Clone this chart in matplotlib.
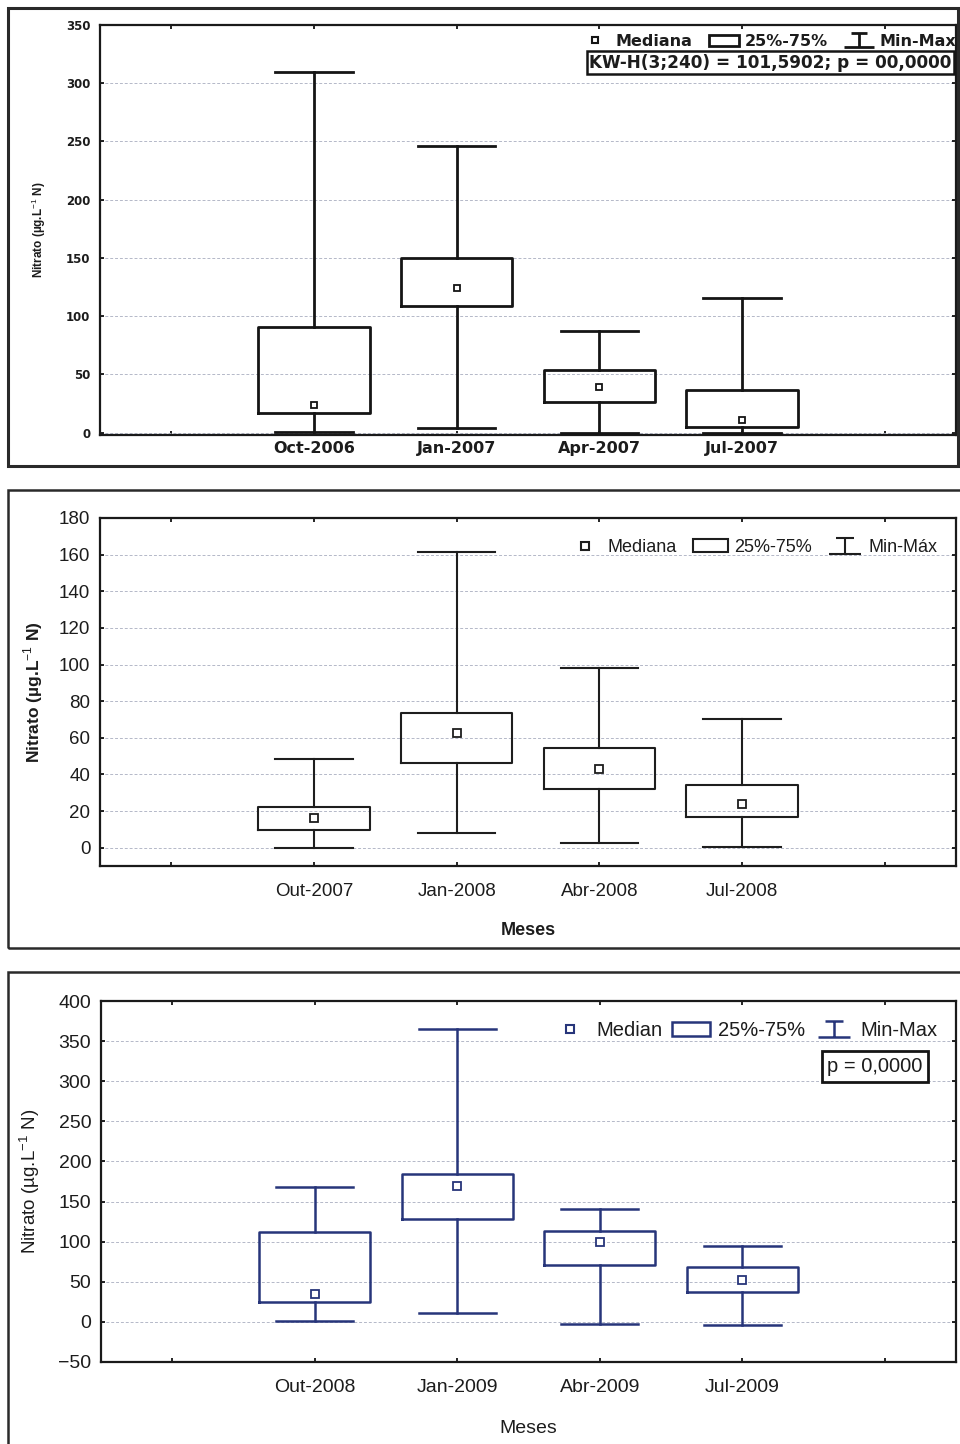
import matplotlib
matplotlib.use('Agg')
import matplotlib.pyplot as plt
from matplotlib.patches import Rectangle, Patch
from matplotlib.lines import Line2D
from matplotlib.path import Path

W, H = 960, 1444

# painel 1 (2006-2007)
meses_1 = ['Oct-2006', 'Jan-2007', 'Apr-2007', 'Jul-2007']
min_1 = [1, 4, 0, 0]
q1_1 = [17, 109, 26, 5]
med_1 = [24, 124, 39, 11]
q3_1 = [91, 150, 54, 37]
max_1 = [310, 246, 87, 116]

# painel 2 (2007-2008)
meses_2 = ['Out-2007', 'Jan-2008', 'Abr-2008', 'Jul-2008']
min_2 = [0, 8, 2.5, 0.5]
q1_2 = [9.5, 46.5, 32, 17]
med_2 = [16, 62.5, 43, 24]
q3_2 = [22, 73.5, 54.5, 34]
max_2 = [48.5, 161.5, 98, 70]

# painel 3 (2008-2009)
meses_3 = ['Out-2008', 'Jan-2009', 'Abr-2009', 'Jul-2009']
min_3 = [1, 11, -2.5, -4]
q1_3 = [25, 128.5, 71, 37]
med_3 = [35, 169.5, 100, 52.5]
q3_3 = [112, 184.5, 113.5, 69]
max_3 = [168.5, 365, 140.5, 95]

ylabel = 'Nitrato (µg.L$^{-1}$ N)'

plt.rcParams['font.family'] = ['Liberation Sans', 'DejaVu Sans']
plt.rcParams['mathtext.fontset'] = 'custom'
plt.rcParams['mathtext.rm'] = 'Liberation Sans'

fig = plt.figure(figsize=(W / 100, H / 100), dpi=100)

# "工" shaped marker for the Min-Max legend entry
minmax_path = Path([(-0.55, 0.5), (0.55, 0.5), (0, 0.5), (0, -0.5), (-1.0, -0.5), (1.0, -0.5)],
                   [Path.MOVETO, Path.LINETO, Path.MOVETO, Path.LINETO, Path.MOVETO, Path.LINETO])


def frame(x0, y0, x1, y1, lw=1.8):
    fig.add_artist(Rectangle((x0 / W, 1 - y1 / H), (x1 - x0) / W, (y1 - y0) / H,
                             transform=fig.transFigure, fill=False, lw=lw, ec='#2a2a2a'))


def panel(box, meses, mins, q1s, meds, q3s, maxs, yticks, ylim, color, lw, fam, tsize, xsize,
          bold, legend_labels, leg_anchor, leg_size, leg_colsp, mm_size,
          ylab_x, ylab_size, ylab_bold, ms):
    x0, y0, x1, y1 = box
    ax = fig.add_axes([x0 / W, 1 - y1 / H, (x1 - x0) / W, (y1 - y0) / H])
    stats = []
    for i in range(len(meses)):
        stats.append({'med': meds[i], 'q1': q1s[i], 'q3': q3s[i],
                      'whislo': mins[i], 'whishi': maxs[i], 'fliers': []})
    pos = list(range(1, len(meses) + 1))
    ax.bxp(stats, positions=pos, widths=0.78, capwidths=0.54, showfliers=False,
           boxprops=dict(color=color, lw=lw), whiskerprops=dict(color=color, lw=lw),
           capprops=dict(color=color, lw=lw), medianprops=dict(lw=0), manage_ticks=False,
           zorder=3)
    ax.plot(pos, meds, ls='none', marker='s', ms=ms, mfc='white', mec=color, mew=1.3, zorder=4)

    ax.set_xlim(-0.5, 5.5)
    ax.set_ylim(*ylim)
    ax.set_xticks(range(0, 6))
    ax.set_xticklabels([''] + meses + [''])
    ax.set_yticks(yticks)
    weight = 'bold' if bold else 'normal'
    for t in ax.get_yticklabels():
        t.set_fontsize(tsize)
        t.set_fontweight(weight)
        t.set_family(fam)
        t.set_color('#1c1c1c')
    for t in ax.get_xticklabels():
        t.set_fontsize(xsize)
        t.set_fontweight(weight)
        t.set_family(fam)
        t.set_color('#1c1c1c')
    ax.tick_params(direction='in', length=3, width=1.2, top=True, right=True, pad=7)
    ax.grid(axis='y', color='#b4b8c8', ls=(0, (3, 2)), lw=0.7, zorder=0)
    for s in ax.spines.values():
        s.set_linewidth(1.6)
        s.set_color('#1a1a1a')

    ax.set_ylabel(ylabel, fontsize=ylab_size, fontweight='bold' if ylab_bold else 'normal',
                  color='#1c1c1c')
    ax.yaxis.set_label_coords(ylab_x, 0.5)

    handles = [Line2D([], [], ls='none', marker='s', ms=ms, mfc='white', mec=color, mew=1.5),
               Patch(fc='white', ec=color, lw=lw),
               Line2D([], [], ls='none', marker=minmax_path, ms=mm_size, mfc='none',
                      mec=color, mew=lw)]
    leg = ax.legend(handles, legend_labels, ncol=3, frameon=False, loc='upper right',
                    bbox_to_anchor=leg_anchor, handlelength=1.9, borderpad=0.3,
                    handletextpad=0.35, columnspacing=leg_colsp, borderaxespad=0,
                    prop=dict(size=leg_size, weight=weight, family=fam))
    for t in leg.get_texts():
        t.set_color('#1c1c1c')
    return ax


# painel 1
frame(8, 8, 958, 466, lw=2.2)
ax1 = panel((100, 25, 956, 435), meses_1, min_1, q1_1, med_1, q3_1, max_1,
            range(0, 351, 50), (-2, 350), '#151515', 2.0, 'DejaVu Sans', 8.5, 11.5, True,
            ['Mediana', '25%-75%', 'Min-Max'], (1.006, 0.99), 11.5, 1.0, 21,
            -0.061, 8.5, True, 4.5)
ax1.tick_params(axis='x', pad=4)
ax1.text(0.995, 0.93, 'KW-H(3;240) = 101,5902; p = 00,0000', transform=ax1.transAxes,
         ha='right', va='top', fontsize=12.2, fontweight='bold', family='DejaVu Sans',
         color='#1c1c1c',
         bbox=dict(boxstyle='square,pad=0.14', fc='white', ec='#151515', lw=1.8))

# painel 2
frame(8, 490, 962, 948)
ax2 = panel((100, 518, 956, 866), meses_2, min_2, q1_2, med_2, q3_2, max_2,
            range(0, 181, 20), (-10, 180), '#1e1e1e', 1.5, 'Liberation Sans', 13.5, 13.5, False,
            ['Mediana', '25%-75%', 'Min-Máx'], (0.985, 0.955), 13, 0.9, 23,
            -0.064, 12.5, True, 6)
ax2.tick_params(axis='x', pad=12)
ax2.set_xlabel('Meses', fontsize=13, fontweight='bold', color='#1c1c1c')
ax2.xaxis.set_label_coords(0.5, -0.16)

# painel 3
frame(8, 972, 962, 1450)
ax3 = panel((101, 1001, 956, 1362), meses_3, min_3, q1_3, med_3, q3_3, max_3,
            range(-50, 401, 50), (-50, 400), '#27357a', 1.8, 'Liberation Sans', 14, 14, False,
            ['Median', '25%-75%', 'Min-Max'], (0.985, 0.96), 14.5, 0.5, 23,
            -0.069, 13.5, False, 6)
ax3.tick_params(axis='x', pad=12)
ax3.set_xlabel('Meses', fontsize=14, color='#1c1c1c')
ax3.xaxis.set_label_coords(0.5, -0.16)
ax3.text(0.961, 0.845, 'p = 0,0000', transform=ax3.transAxes, ha='right', va='top',
         fontsize=14.5, color='#1c1c1c',
         bbox=dict(boxstyle='square,pad=0.28', fc='white', ec='#151515', lw=2))

fig.savefig('out.png', dpi=100)
